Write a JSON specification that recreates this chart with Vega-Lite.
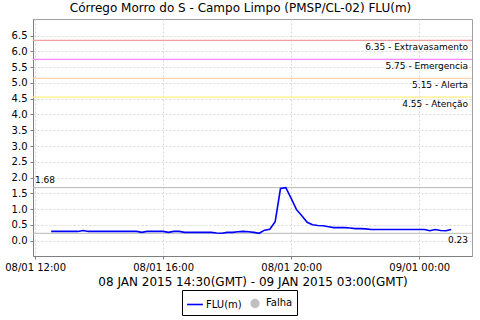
{
  "$schema": "https://vega.github.io/schema/vega-lite/v6.json",
  "width": 439,
  "height": 237,
  "autosize": {"type": "none"},
  "padding": {"left": 33, "top": 19, "right": 8, "bottom": 64},
  "background": "white",
  "title": {
    "text": "Córrego Morro do S - Campo Limpo (PMSP/CL-02) FLU(m)",
    "font": "DejaVu Sans",
    "fontSize": 12,
    "fontWeight": "normal",
    "color": "#000000",
    "anchor": "middle",
    "dx": -12,
    "offset": 4
  },
  "config": {
    "view": {"stroke": "#a0a0a0", "strokeWidth": 1},
    "axis": {
      "labelFont": "DejaVu Sans",
      "titleFont": "DejaVu Sans",
      "labelColor": "#000000",
      "titleColor": "#000000",
      "domainColor": "#808080",
      "tickColor": "#808080",
      "gridColor": "#d8d8d8",
      "gridDash": [2, 2],
      "labelOverlap": false,
      "labelFlush": false
    }
  },
  "encoding": {
    "y": {
      "field": "v",
      "type": "quantitative",
      "scale": {"domain": [-0.49, 7.03], "nice": false, "zero": false},
      "axis": {
        "title": null,
        "values": [0, 0.5, 1, 1.5, 2, 2.5, 3, 3.5, 4, 4.5, 5, 5.5, 6, 6.5],
        "tickCount": 14,
        "format": ".1f",
        "labelFontSize": 10,
        "labelPadding": 3,
        "tickSize": 3,
        "labelOverlap": false,
        "grid": true
      }
    }
  },
  "layer": [
    {
      "data": {"values": [
        {"v": 6.35, "label": "6.35 - Extravasamento", "cor": "#f0a0a0"},
        {"v": 5.75, "label": "5.75 - Emergencia", "cor": "#ff88ff"},
        {"v": 5.15, "label": "5.15 - Alerta", "cor": "#ffc898"},
        {"v": 4.55, "label": "4.55 - Atenção", "cor": "#fff07a"}
      ]},
      "mark": {"type": "rule", "strokeWidth": 1.2},
      "encoding": {
        "color": {"field": "cor", "type": "nominal", "scale": null}
      }
    },
    {
      "data": {"values": [
        {"v": 6.35, "label": "6.35 - Extravasamento"},
        {"v": 5.75, "label": "5.75 - Emergencia"},
        {"v": 5.15, "label": "5.15 - Alerta"},
        {"v": 4.55, "label": "4.55 - Atenção"}
      ]},
      "mark": {"type": "text", "align": "right", "baseline": "top", "dx": -4, "dy": 3, "font": "DejaVu Sans", "fontSize": 9, "color": "#000000"},
      "encoding": {
        "x": {"datum": {"year": 2015, "month": 1, "date": 9, "hours": 1, "minutes": 39, "utc": true}, "type": "temporal"},
        "text": {"field": "label"}
      }
    },
    {
      "data": {"values": [
        {"v": 1.68, "label": "1.68"},
        {"v": 0.23, "label": "0.23"}
      ]},
      "mark": {"type": "rule", "color": "#b8b8b8", "strokeWidth": 1},
      "encoding": {}
    },
    {
      "data": {"values": [
        {"v": 1.68, "label": "1.68"}
      ]},
      "mark": {"type": "text", "align": "left", "baseline": "bottom", "dx": 2, "dy": -3, "font": "DejaVu Sans", "fontSize": 9, "color": "#000000"},
      "encoding": {
        "x": {"datum": {"year": 2015, "month": 1, "date": 8, "hours": 11, "minutes": 56, "utc": true}, "type": "temporal"},
        "text": {"field": "label"}
      }
    },
    {
      "data": {"values": [
        {"v": 0.23, "label": "0.23"}
      ]},
      "mark": {"type": "text", "align": "right", "baseline": "top", "dx": -4, "dy": 3, "font": "DejaVu Sans", "fontSize": 9, "color": "#000000"},
      "encoding": {
        "x": {"datum": {"year": 2015, "month": 1, "date": 9, "hours": 1, "minutes": 39, "utc": true}, "type": "temporal"},
        "text": {"field": "label"}
      }
    },
    {
      "data": {"values": [
        {"t": "2015-01-08T12:30:00Z", "v": 0.29, "s": "FLU(m)"},
        {"t": "2015-01-08T12:40:00Z", "v": 0.29, "s": "FLU(m)"},
        {"t": "2015-01-08T12:50:00Z", "v": 0.29, "s": "FLU(m)"},
        {"t": "2015-01-08T13:00:00Z", "v": 0.29, "s": "FLU(m)"},
        {"t": "2015-01-08T13:10:00Z", "v": 0.29, "s": "FLU(m)"},
        {"t": "2015-01-08T13:20:00Z", "v": 0.29, "s": "FLU(m)"},
        {"t": "2015-01-08T13:30:00Z", "v": 0.32, "s": "FLU(m)"},
        {"t": "2015-01-08T13:40:00Z", "v": 0.29, "s": "FLU(m)"},
        {"t": "2015-01-08T13:50:00Z", "v": 0.29, "s": "FLU(m)"},
        {"t": "2015-01-08T14:00:00Z", "v": 0.29, "s": "FLU(m)"},
        {"t": "2015-01-08T14:10:00Z", "v": 0.29, "s": "FLU(m)"},
        {"t": "2015-01-08T14:20:00Z", "v": 0.29, "s": "FLU(m)"},
        {"t": "2015-01-08T14:30:00Z", "v": 0.29, "s": "FLU(m)"},
        {"t": "2015-01-08T14:40:00Z", "v": 0.29, "s": "FLU(m)"},
        {"t": "2015-01-08T14:50:00Z", "v": 0.29, "s": "FLU(m)"},
        {"t": "2015-01-08T15:00:00Z", "v": 0.29, "s": "FLU(m)"},
        {"t": "2015-01-08T15:10:00Z", "v": 0.29, "s": "FLU(m)"},
        {"t": "2015-01-08T15:20:00Z", "v": 0.26, "s": "FLU(m)"},
        {"t": "2015-01-08T15:30:00Z", "v": 0.29, "s": "FLU(m)"},
        {"t": "2015-01-08T15:40:00Z", "v": 0.29, "s": "FLU(m)"},
        {"t": "2015-01-08T15:50:00Z", "v": 0.29, "s": "FLU(m)"},
        {"t": "2015-01-08T16:00:00Z", "v": 0.29, "s": "FLU(m)"},
        {"t": "2015-01-08T16:10:00Z", "v": 0.26, "s": "FLU(m)"},
        {"t": "2015-01-08T16:20:00Z", "v": 0.29, "s": "FLU(m)"},
        {"t": "2015-01-08T16:30:00Z", "v": 0.29, "s": "FLU(m)"},
        {"t": "2015-01-08T16:40:00Z", "v": 0.26, "s": "FLU(m)"},
        {"t": "2015-01-08T16:50:00Z", "v": 0.26, "s": "FLU(m)"},
        {"t": "2015-01-08T17:00:00Z", "v": 0.26, "s": "FLU(m)"},
        {"t": "2015-01-08T17:10:00Z", "v": 0.26, "s": "FLU(m)"},
        {"t": "2015-01-08T17:20:00Z", "v": 0.26, "s": "FLU(m)"},
        {"t": "2015-01-08T17:30:00Z", "v": 0.26, "s": "FLU(m)"},
        {"t": "2015-01-08T17:40:00Z", "v": 0.24, "s": "FLU(m)"},
        {"t": "2015-01-08T17:50:00Z", "v": 0.23, "s": "FLU(m)"},
        {"t": "2015-01-08T18:00:00Z", "v": 0.26, "s": "FLU(m)"},
        {"t": "2015-01-08T18:10:00Z", "v": 0.26, "s": "FLU(m)"},
        {"t": "2015-01-08T18:20:00Z", "v": 0.28, "s": "FLU(m)"},
        {"t": "2015-01-08T18:30:00Z", "v": 0.29, "s": "FLU(m)"},
        {"t": "2015-01-08T18:40:00Z", "v": 0.28, "s": "FLU(m)"},
        {"t": "2015-01-08T18:50:00Z", "v": 0.26, "s": "FLU(m)"},
        {"t": "2015-01-08T19:00:00Z", "v": 0.23, "s": "FLU(m)"},
        {"t": "2015-01-08T19:10:00Z", "v": 0.33, "s": "FLU(m)"},
        {"t": "2015-01-08T19:20:00Z", "v": 0.36, "s": "FLU(m)"},
        {"t": "2015-01-08T19:30:00Z", "v": 0.60, "s": "FLU(m)"},
        {"t": "2015-01-08T19:40:00Z", "v": 1.65, "s": "FLU(m)"},
        {"t": "2015-01-08T19:50:00Z", "v": 1.68, "s": "FLU(m)"},
        {"t": "2015-01-08T20:00:00Z", "v": 1.34, "s": "FLU(m)"},
        {"t": "2015-01-08T20:10:00Z", "v": 0.98, "s": "FLU(m)"},
        {"t": "2015-01-08T20:20:00Z", "v": 0.79, "s": "FLU(m)"},
        {"t": "2015-01-08T20:30:00Z", "v": 0.58, "s": "FLU(m)"},
        {"t": "2015-01-08T20:40:00Z", "v": 0.50, "s": "FLU(m)"},
        {"t": "2015-01-08T20:50:00Z", "v": 0.48, "s": "FLU(m)"},
        {"t": "2015-01-08T21:00:00Z", "v": 0.47, "s": "FLU(m)"},
        {"t": "2015-01-08T21:10:00Z", "v": 0.44, "s": "FLU(m)"},
        {"t": "2015-01-08T21:20:00Z", "v": 0.41, "s": "FLU(m)"},
        {"t": "2015-01-08T21:30:00Z", "v": 0.41, "s": "FLU(m)"},
        {"t": "2015-01-08T21:40:00Z", "v": 0.41, "s": "FLU(m)"},
        {"t": "2015-01-08T21:50:00Z", "v": 0.40, "s": "FLU(m)"},
        {"t": "2015-01-08T22:00:00Z", "v": 0.38, "s": "FLU(m)"},
        {"t": "2015-01-08T22:10:00Z", "v": 0.38, "s": "FLU(m)"},
        {"t": "2015-01-08T22:20:00Z", "v": 0.37, "s": "FLU(m)"},
        {"t": "2015-01-08T22:30:00Z", "v": 0.35, "s": "FLU(m)"},
        {"t": "2015-01-08T22:40:00Z", "v": 0.35, "s": "FLU(m)"},
        {"t": "2015-01-08T22:50:00Z", "v": 0.35, "s": "FLU(m)"},
        {"t": "2015-01-08T23:00:00Z", "v": 0.35, "s": "FLU(m)"},
        {"t": "2015-01-08T23:10:00Z", "v": 0.35, "s": "FLU(m)"},
        {"t": "2015-01-08T23:20:00Z", "v": 0.35, "s": "FLU(m)"},
        {"t": "2015-01-08T23:30:00Z", "v": 0.35, "s": "FLU(m)"},
        {"t": "2015-01-08T23:40:00Z", "v": 0.35, "s": "FLU(m)"},
        {"t": "2015-01-08T23:50:00Z", "v": 0.35, "s": "FLU(m)"},
        {"t": "2015-01-09T00:00:00Z", "v": 0.35, "s": "FLU(m)"},
        {"t": "2015-01-09T00:10:00Z", "v": 0.35, "s": "FLU(m)"},
        {"t": "2015-01-09T00:20:00Z", "v": 0.31, "s": "FLU(m)"},
        {"t": "2015-01-09T00:30:00Z", "v": 0.35, "s": "FLU(m)"},
        {"t": "2015-01-09T00:40:00Z", "v": 0.32, "s": "FLU(m)"},
        {"t": "2015-01-09T00:50:00Z", "v": 0.31, "s": "FLU(m)"},
        {"t": "2015-01-09T01:00:00Z", "v": 0.35, "s": "FLU(m)"}
      ]},
      "mark": {"type": "line", "strokeWidth": 1.6},
      "encoding": {
        "x": {
          "field": "t",
          "type": "temporal",
          "scale": {
            "type": "utc",
            "domain": [
              {"year": 2015, "month": 1, "date": 8, "hours": 11, "minutes": 56, "utc": true},
              {"year": 2015, "month": 1, "date": 9, "hours": 1, "minutes": 39, "utc": true}
            ]
          },
          "axis": {
            "title": "08 JAN 2015 14:30(GMT) - 09 JAN 2015 03:00(GMT)",
            "titleFontSize": 12,
            "titleFontWeight": "normal",
            "titlePadding": 4,
            "format": "%d/%m %H:%M",
            "labelFontSize": 10,
            "labelPadding": 3,
            "tickSize": 3,
            "values": [
              {"year": 2015, "month": 1, "date": 8, "hours": 12, "utc": true},
              {"year": 2015, "month": 1, "date": 8, "hours": 16, "utc": true},
              {"year": 2015, "month": 1, "date": 8, "hours": 20, "utc": true},
              {"year": 2015, "month": 1, "date": 9, "hours": 0, "utc": true}
            ],
            "grid": true
          }
        },
        "color": {
          "field": "s",
          "type": "nominal",
          "scale": {"domain": ["FLU(m)", "Falha"], "range": ["#0000ff", "#c0c0c0"]},
          "legend": {
            "title": null,
            "orient": "none",
            "legendX": 149,
            "legendY": 271,
            "direction": "horizontal",
            "labelFont": "DejaVu Sans",
            "labelFontSize": 10,
            "labelColor": "#000000",
            "strokeColor": "#000000",
            "padding": 4,
            "columnPadding": 4,
            "symbolOffset": 0,
            "symbolSize": 200,
            "labelOffset": 2,
            "encode": {
              "symbols": {
                "update": {
                  "shape": {"signal": "datum.value === 'Falha' ? 'circle' : 'stroke'"},
                  "size": {"signal": "datum.value === 'Falha' ? 60 : 250"},
                  "fill": {"signal": "datum.value === 'Falha' ? '#c0c0c0' : 'transparent'"},
                  "stroke": {"signal": "datum.value === 'Falha' ? '#c0c0c0' : '#0000ff'"},
                  "strokeWidth": {"value": 1.6}
                }
              }
            }
          }
        }
      }
    }
  ]
}
